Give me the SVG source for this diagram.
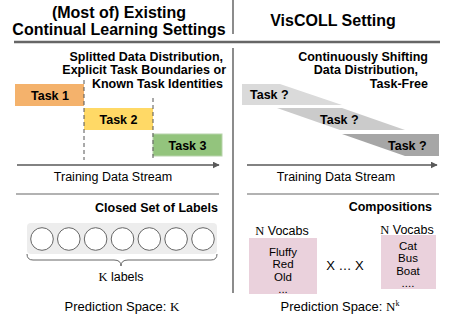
<svg xmlns="http://www.w3.org/2000/svg" width="453" height="316" viewBox="0 0 453 316">
<style>
text{font-family:"Liberation Sans",Arial,sans-serif;fill:#000}
.t{font-size:16px;font-weight:bold}
.s{font-size:12.5px;font-weight:bold}
.r{font-size:12.5px}
.b{font-size:11.5px}
.m{font-family:"Liberation Serif","Times New Roman",serif}
.rule{stroke:#666;fill:none}
.dash{stroke:#555;stroke-width:1;stroke-dasharray:4 3}
.arr{stroke:#595959;stroke-width:1.5;fill:none}
</style>
<defs>
<marker id="ah" viewBox="0 0 10 10" refX="9" refY="5" markerWidth="7" markerHeight="7" markerUnits="userSpaceOnUse" orient="auto"><path d="M0,0L10,5L0,10z" fill="#595959"/></marker>
</defs>
<g id="frame">
<line class="rule" x1="14" y1="42" x2="440" y2="42" stroke-width="2.5"/>
<line class="rule" x1="233" y1="0" x2="233" y2="34" stroke-width="1.5"/>
<line class="rule" x1="233" y1="48" x2="233" y2="293" stroke-width="1.5"/>
<line class="rule" x1="16" y1="194" x2="219" y2="194" stroke-width="1.2"/>
<line class="rule" x1="247" y1="194" x2="439" y2="194" stroke-width="1.2"/>
</g>
<g id="title-left">
<text class="t" x="119" y="18" text-anchor="middle">(Most of) Existing</text>
<text class="t" x="119" y="35" text-anchor="middle">Continual Learning Settings</text>
</g>
<g id="title-right">
<text class="t" x="333" y="26" text-anchor="middle">VisCOLL Setting</text>
</g>
<g id="sub-left">
<text class="s" x="223" y="61" text-anchor="end">Splitted Data Distribution,</text>
<text class="s" x="226" y="74" text-anchor="end">Explicit Task Boundaries or</text>
<text class="s" x="223" y="88" text-anchor="end">Known Task Identities</text>
</g>
<g id="sub-right">
<text class="s" x="428" y="61" text-anchor="end">Continuously Shifting</text>
<text class="s" x="418" y="74" text-anchor="end">Data Distribution,</text>
<text class="s" x="428" y="88" text-anchor="end">Task-Free</text>
</g>
<g id="task1"><rect x="15" y="84" width="69" height="22" fill="#F4B26C"/><text class="s" x="50" y="99.5" text-anchor="middle">Task 1</text></g>
<g id="task2"><rect x="84" y="108" width="69" height="22" fill="#FFD966"/><text class="s" x="118.5" y="123.5" text-anchor="middle">Task 2</text></g>
<g id="task3"><rect x="153" y="134" width="69" height="22" fill="#93C47D" stroke="#b8d4ac" stroke-width="1"/><text class="s" x="187.5" y="149.5" text-anchor="middle">Task 3</text></g>
<g id="taskq1"><polygon points="242,84 280,84 342,105 242,105" fill="#DADADA"/><text class="s" x="250" y="99">Task ?</text></g>
<g id="taskq2"><polygon points="277,108 342,108 405,130 340,130" fill="#CBCBCB"/><text class="s" x="320" y="124">Task ?</text></g>
<g id="taskq3"><polygon points="342,134 439,134 439,156 405,156" fill="#A6A6A6"/><text class="s" x="388" y="150">Task ?</text></g>
<g id="connectors">
<line class="dash" x1="84" y1="80" x2="84" y2="160"/>
<line class="dash" x1="153" y1="98" x2="153" y2="160"/>
<line class="arr" x1="17" y1="165" x2="219" y2="165" marker-end="url(#ah)"/>
<line class="arr" x1="247" y1="165" x2="437" y2="165" marker-end="url(#ah)"/>
</g>
<g id="stream-left"><text class="r" x="113" y="181" text-anchor="middle">Training Data Stream</text></g>
<g id="stream-right"><text class="r" x="336" y="181" text-anchor="middle">Training Data Stream</text></g>
<g id="labels-left">
<text class="s" x="218" y="212" text-anchor="end">Closed Set of Labels</text>
<rect x="27" y="223" width="190" height="31" rx="4" fill="#EDEDED"/>
<g fill="#fff" stroke="#666" stroke-width="1">
<circle cx="42" cy="239" r="11.3"/><circle cx="68.8" cy="239" r="11.3"/><circle cx="95.6" cy="239" r="11.3"/><circle cx="122.5" cy="239" r="11.3"/><circle cx="149.3" cy="239" r="11.3"/><circle cx="176.1" cy="239" r="11.3"/><circle cx="203" cy="239" r="11.3"/>
</g>
<path d="M27,254 Q27,260 33,260 L114,260 Q121,260 121,266 Q121,260 128,260 L211,260 Q217,260 217,254" fill="none" stroke="#666" stroke-width="1"/>
<text class="r" x="121" y="281" text-anchor="middle"><tspan class="m">K</tspan> labels</text>
<text x="122" y="311" text-anchor="middle" style="font-size:13px">Prediction Space: <tspan class="m">K</tspan></text>
</g>
<g id="compositions">
<text class="s" x="432" y="211" text-anchor="end">Compositions</text>
<text class="r" x="282" y="235" text-anchor="middle"><tspan class="m">N</tspan> Vocabs</text>
<text class="r" x="407" y="234" text-anchor="middle"><tspan class="m">N</tspan> Vocabs</text>
</g>
<g id="vocab-left">
<rect x="249" y="238" width="68" height="56" fill="#EAD1DC"/>
<g text-anchor="middle"><text class="b" x="283" y="256">Fluffy</text><text class="b" x="283" y="268">Red</text><text class="b" x="283" y="281">Old</text><text class="b" x="283" y="293">...</text></g>
</g>
<g id="vocab-right">
<rect x="381" y="235" width="55" height="54" fill="#EAD1DC"/>
<g text-anchor="middle"><text class="b" x="408" y="250">Cat</text><text class="b" x="408" y="262">Bus</text><text class="b" x="408" y="275">Boat</text><text class="b" x="408" y="287">....</text></g>
</g>
<g id="times"><text x="345" y="270" text-anchor="middle" style="font-size:13px">X … X</text></g>
<g id="pred-right"><text x="340" y="311" text-anchor="middle" style="font-size:13px">Prediction Space: <tspan class="m">N</tspan><tspan class="m" style="font-size:8px" dy="-5">k</tspan></text></g>
</svg>
